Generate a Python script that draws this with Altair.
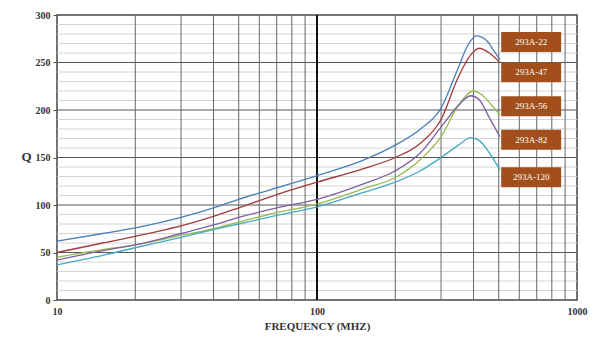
import altair as alt
import pandas as pd

series_names = ["293A-22", "293A-47", "293A-56", "293A-82", "293A-120"]
series_colors = ["#4a7ebb", "#a33a3a", "#98b954", "#7d60a0", "#46aac5"]

freq_22 = [10, 15, 20, 30, 40, 50, 70, 100, 150, 200, 250, 300, 350, 380, 410, 450, 480, 505]
q_22 = [62, 70, 76, 87, 97, 106, 118, 131, 147, 163, 180, 202, 245, 268, 278, 273, 262, 253]

freq_47 = [10, 15, 20, 30, 40, 50, 70, 100, 150, 200, 250, 300, 350, 390, 420, 460, 505]
q_47 = [50, 60, 67, 78, 88, 97, 111, 124, 138, 150, 165, 190, 235, 258, 265, 260, 250]

freq_56 = [10, 15, 20, 30, 40, 50, 70, 100, 150, 200, 250, 300, 350, 400, 430, 470, 505]
q_56 = [45, 53, 58, 68, 75, 82, 92, 101, 117, 129, 148, 172, 205, 220, 216, 205, 195]

freq_82 = [10, 15, 20, 30, 40, 50, 70, 100, 150, 200, 250, 300, 350, 390, 420, 460, 505]
q_82 = [42, 52, 58, 70, 79, 87, 97, 106, 122, 136, 155, 182, 205, 215, 211, 192, 172]

freq_120 = [10, 15, 20, 30, 40, 50, 70, 100, 150, 200, 250, 300, 350, 390, 420, 460, 505]
q_120 = [37, 47, 55, 66, 74, 80, 89, 98, 113, 124, 136, 150, 163, 171, 168, 155, 137]

label_q = [271.6, 239.6, 203.9, 168.7, 129.3]
label_f_left = 511
label_f_right = 869
label_half = 10.5

y_minor = [v for v in range(10, 300, 10) if v % 50 != 0]
y_major = [50, 100, 150, 200, 250]
x_minor = [20, 30, 40, 50, 60, 70, 80, 90, 200, 300, 400, 500, 600, 700, 800, 900]
x_major = [100]

rows = []
for name, fs, qs in zip(series_names,
                        [freq_22, freq_47, freq_56, freq_82, freq_120],
                        [q_22, q_47, q_56, q_82, q_120]):
    for f, q in zip(fs, qs):
        rows.append({"series": name, "freq": f, "Q": q})
df = pd.DataFrame(rows)

lab = pd.DataFrame({
    "series": series_names,
    "qc": label_q,
    "q1": [q - label_half for q in label_q],
    "q2": [q + label_half for q in label_q],
    "f1": [label_f_left] * 5,
    "f2": [label_f_right] * 5,
    "fc": [(label_f_left * label_f_right) ** 0.5] * 5,
})

xscale = alt.Scale(type="log", domain=[10, 1000], nice=False)
yscale = alt.Scale(domain=[0, 300], nice=False)

serif = "Liberation Serif"

ymin_df = pd.DataFrame({"Q": y_minor})
ymaj_df = pd.DataFrame({"Q": y_major})
xmin_df = pd.DataFrame({"freq": x_minor})
xmaj_df = pd.DataFrame({"freq": x_major})

g_ymin = alt.Chart(ymin_df).mark_rule(color="#d4d4d4", strokeWidth=1).encode(
    y=alt.Y("Q:Q", scale=yscale))
g_ymaj = alt.Chart(ymaj_df).mark_rule(color="#555555", strokeWidth=1).encode(
    y=alt.Y("Q:Q", scale=yscale))
g_xmin = alt.Chart(xmin_df).mark_rule(color="#666666", strokeWidth=1).encode(
    x=alt.X("freq:Q", scale=xscale))
g_xmaj = alt.Chart(xmaj_df).mark_rule(color="#111111", strokeWidth=2).encode(
    x=alt.X("freq:Q", scale=xscale))

lines = alt.Chart(df).mark_line(interpolate="monotone", strokeWidth=1.3).encode(
    x=alt.X("freq:Q", scale=xscale,
            axis=alt.Axis(values=[10, 100, 1000], format="d", title="FREQUENCY (MHZ)", grid=False,
                          labelFont=serif, labelFontSize=10, labelFontWeight="bold",
                          labelColor="#333", titleFont=serif, titleFontSize=11,
                          titleFontWeight="bold", titleColor="#333", ticks=False,
                          domain=False, labelPadding=6, titlePadding=4,
                          labelFlush=False)),
    y=alt.Y("Q:Q", scale=yscale,
            axis=alt.Axis(values=[0, 50, 100, 150, 200, 250, 300], title="Q", grid=False,
                          labelFont=serif, labelFontSize=10, labelFontWeight="bold",
                          labelColor="#333", titleFont=serif, titleFontSize=13,
                          titleFontWeight="bold", titleColor="#333", titleAngle=0,
                          titleAlign="right", titleBaseline="middle",
                          titleY=141, titleX=-26, tickSize=4, tickColor="#555",
                          domain=False, labelPadding=3)),
    color=alt.Color("series:N", scale=alt.Scale(domain=series_names, range=series_colors),
                    legend=None),
    detail="series:N",
)

boxes = alt.Chart(lab).mark_rect(color="#a24f1c").encode(
    x=alt.X("f1:Q", scale=xscale), x2="f2:Q",
    y=alt.Y("q1:Q", scale=yscale), y2="q2:Q",
)
texts = alt.Chart(lab).mark_text(color="white", font=serif, fontSize=9).encode(
    x=alt.X("fc:Q", scale=xscale),
    y=alt.Y("qc:Q", scale=yscale),
    text="series:N",
)

chart = alt.layer(g_ymin, g_ymaj, g_xmin, g_xmaj, lines, boxes, texts).properties(
    width=520, height=285,
    autosize=alt.AutoSizeParams(type="none"),
    padding={"left": 57, "top": 15, "right": 17, "bottom": 43},
    background="white",
).configure_view(stroke="#444", strokeWidth=1.5)

chart.save("out.html", embed_options={"renderer": "svg", "actions": False})
